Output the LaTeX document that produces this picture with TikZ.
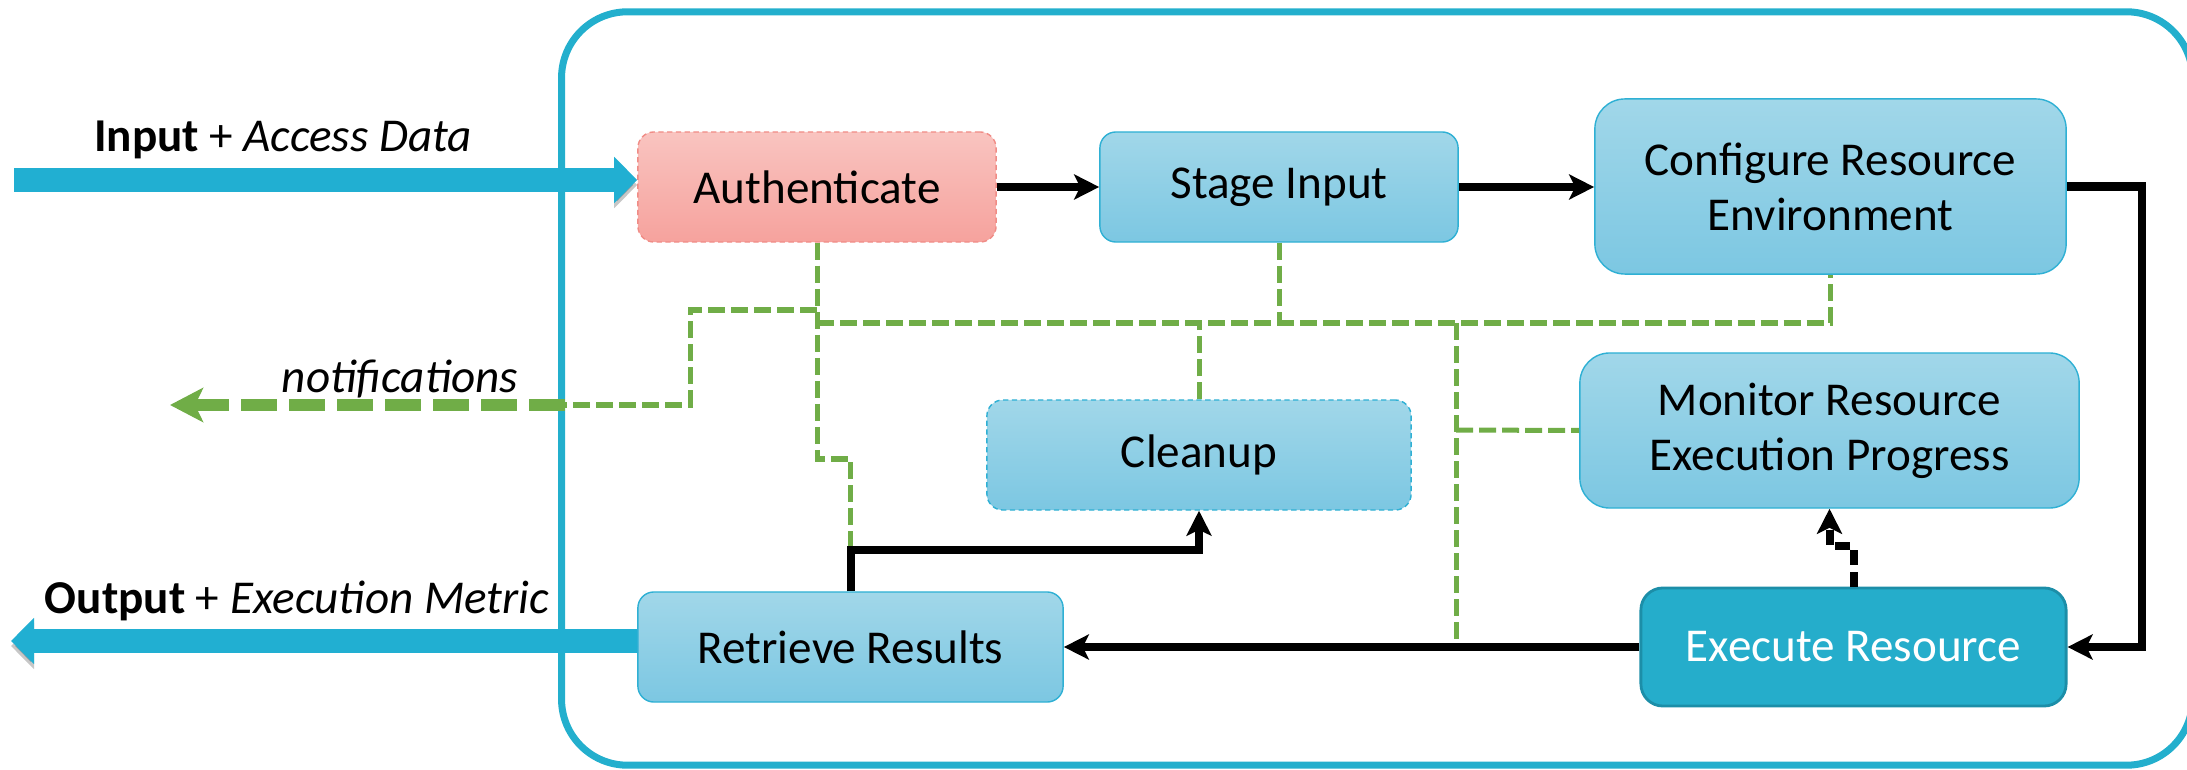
\documentclass[tikz,border=0pt]{standalone}
\usepackage{fontspec}
\setmainfont{Carlito}
\usetikzlibrary{arrows.meta}
\definecolor{boxtop}{HTML}{A1D7E9}
\definecolor{boxbot}{HTML}{7CC7E2}
\definecolor{boxline}{HTML}{2FB0D4}
\definecolor{redtop}{HTML}{F9C4C0}
\definecolor{redbot}{HTML}{F6A29D}
\definecolor{redline}{HTML}{F08C86}
\definecolor{execfill}{HTML}{25ADCB}
\definecolor{execline}{HTML}{1C8EA8}
\definecolor{framecol}{HTML}{23AFCD}
\definecolor{iocol}{HTML}{21AFD2}
\definecolor{notegreen}{HTML}{70AD47}
\newcommand\boxfont{\fontsize{13.4}{15.6}\selectfont}

\begin{document}
\begin{tikzpicture}[x=0.01cm,y=-0.01cm]
\tikzset{
base box/.style={rectangle,rounded corners=0.16cm,font=\boxfont,align=center,inner sep=0pt},
task box/.style={base box,draw=boxline,line width=0.4pt,top color=boxtop,bottom color=boxbot},
big box/.style={task box,rounded corners=0.3cm},
auth box/.style={base box,draw=redline,line width=0.4pt,dash pattern=on 1.5pt off 1pt,top color=redtop,bottom color=redbot},
clean box/.style={task box,dash pattern=on 1.5pt off 1pt},
run box/.style={base box,rounded corners=0.22cm,fill=execfill,draw=execline,line width=0.8pt,text=white},
flow/.style={line width=0.08cm,-{Stealth[length=0.25cm,width=0.25cm,inset=0.06cm]}},
watch/.style={flow,dash pattern=on 0.15cm off 0.07cm},
signal/.style={draw=notegreen,line width=0.05cm,dash pattern=on 0.17cm off 0.06cm},
notify/.style={draw=notegreen,line width=0.12cm,dash pattern=on 0.36cm off 0.12cm,
  -{Stealth[length=0.33cm,width=0.34cm,inset=0.08cm,fill=notegreen]}},
io arrow/.style={draw=iocol,line width=0.23cm,-{Triangle[length=0.23cm,width=0.45cm]},
  preaction={draw=black,opacity=0.22,transform canvas={yshift=-0.05cm}}},
io label/.style={anchor=base,font=\boxfont}
}
\useasboundingbox (0,0) rectangle (2187,770);

\node(frame)[draw=framecol,line width=0.07cm,rounded corners=0.66cm,minimum width=16.3cm,minimum height=7.53cm] at (1377,388.5) {};

\node(auth)[auth box,minimum width=3.58cm,minimum height=1.10cm] at (817,187) {Authenticate};
\node(stage)[task box,minimum width=3.58cm,minimum height=1.10cm] at (1279,187) {Stage Input};
\node(config)[big box,minimum width=4.71cm,minimum height=1.75cm] at (1830.5,186.5) {Configure Resource\\Environment};
\node(monitor)[big box,minimum width=4.99cm,minimum height=1.55cm] at (1829.5,430.5) {Monitor Resource\\Execution Progress};
\node(cleanup)[clean box,minimum width=4.24cm,minimum height=1.10cm] at (1199,455) {Cleanup};
\node(retrieve)[task box,minimum width=4.25cm,minimum height=1.10cm] at (850.5,647) {Retrieve Results};
\node(execute)[run box,minimum width=4.25cm,minimum height=1.18cm] at (1853.5,647) {Execute Resource};

\coordinate(inStart) at (14,180);
\coordinate(outEnd) at (11,641);
\coordinate(noteEnd) at (170,405);
\coordinate(noteGate) at (565,405);
\coordinate(loopTurn) at (2142,647);

\node(inLabel)[io label] at (283,152) {\textbf{Input} + \textit{Access Data}};
\node(outLabel)[io label] at (297,613) {\textbf{Output} + \textit{Execution Metric}};
\node(noteLabel)[io label] at (400,393) {\textit{notifications}};

\draw[signal] (auth.south) -- (817,459) -| (retrieve.north);
\draw[signal] (auth.south |- 0,323) -- (config.south |- 0,323) -- (config.south);
\draw[signal] (stage.south) -- (stage.south |- 0,323);
\draw[signal] (cleanup.north) -- (cleanup.north |- 0,323);
\draw[signal] (1456,323) -- (1456,640);
\draw[signal] (1456,430) -- (monitor.west);
\draw[signal] (auth.south |- 0,310) -| (690,405) -- (noteGate);
\draw[notify] (noteGate) -- (noteEnd);

\draw[io arrow] (inStart) -- (auth.west |- inStart);
\draw[io arrow] (retrieve.west |- outEnd) -- (outEnd);

\draw[flow] (auth) -- (stage);
\draw[flow] (stage) -- (config.west |- stage);
\draw[flow] (config.east) -| (loopTurn) -- (execute.east);
\draw[flow] (execute.west) -- (retrieve.east);
\draw[flow] (retrieve.north) -- ++(0,-41) -| (cleanup.south);
\draw[watch] (execute.north) -- ++(0,-41) -| (monitor.south);
\end{tikzpicture}
\end{document}
